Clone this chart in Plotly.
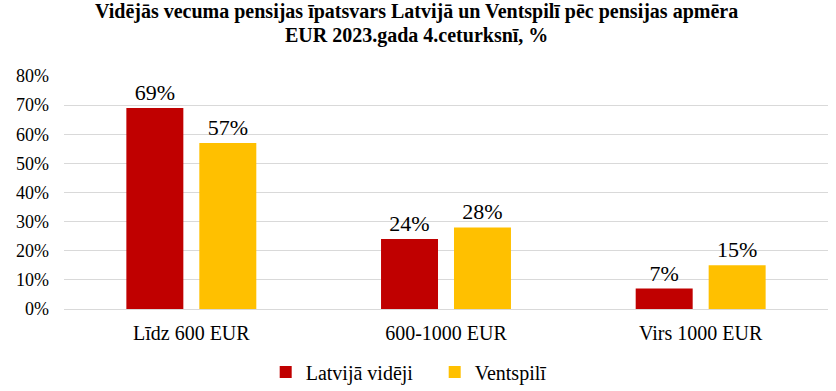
import plotly.graph_objects as go

categories = ["Līdz 600 EUR", "600-1000 EUR", "Virs 1000 EUR"]
latvija = [69, 24, 7]
ventspili = [57, 28, 15]
series_names = ["Latvijā vidēji", "Ventspilī"]
colors = ["#C00000", "#FFC000"]
y_ticks = [0, 10, 20, 30, 40, 50, 60, 70, 80]
title_lines = ["Vidējās vecuma pensijas īpatsvars Latvijā un Ventspilī pēc pensijas apmēra",
               "EUR 2023.gada 4.ceturksnī, %"]

font_family = "Liberation Serif"

fig = go.Figure()
for name, vals, col in zip(series_names, [latvija, ventspili], colors):
    fig.add_trace(go.Bar(
        x=categories, y=vals, name=name, marker_color=col,
        marker_line_width=0,
        text=[f"{v}%" for v in vals], textposition="outside",
        textfont=dict(family=font_family, size=22, color="#000000"),
        cliponaxis=False,
    ))

for line, ypos in zip(title_lines, [1.275, 1.175]):
    fig.add_annotation(
        text=f"<b>{line}</b>", xref="paper", yref="paper", x=0.462, y=ypos,
        xanchor="center", yanchor="middle", showarrow=False,
        font=dict(family=font_family, size=20, color="#000000"),
    )

fig.update_layout(
    width=836, height=391,
    margin=dict(l=64, r=8, t=76, b=82, autoexpand=False),
    paper_bgcolor="white", plot_bgcolor="white",
    barmode="group", bargap=0.427, bargroupgap=0.219,
    font=dict(family=font_family, color="#000000"),
    xaxis=dict(
        tickfont=dict(family=font_family, size=20, color="#000000"),
        showline=False, ticks="", showgrid=False, automargin=False,
        ticklabelstandoff=10,
    ),
    yaxis=dict(
        range=[0, 80], tickvals=y_ticks, ticktext=[f"{t}%" for t in y_ticks],
        tickfont=dict(family=font_family, size=18, color="#000000"),
        showgrid=True, gridcolor="#D9D9D9", gridwidth=1,
        zeroline=True, zerolinecolor="#D9D9D9", zerolinewidth=1,
        showline=False, ticks="", automargin=False, ticklabelstandoff=14,
    ),
    legend=dict(
        orientation="h", x=0.264, xanchor="left", y=-0.27, yanchor="middle",
        font=dict(family=font_family, size=20, color="#000000"),
        itemwidth=30, tracegroupgap=0,
        entrywidth=124, entrywidthmode="pixels",
    ),
)

fig.write_html(
    "out.html",
    config={"displayModeBar": False},
    post_script="document.body.style.margin='0';document.body.style.overflow='hidden';",
)
